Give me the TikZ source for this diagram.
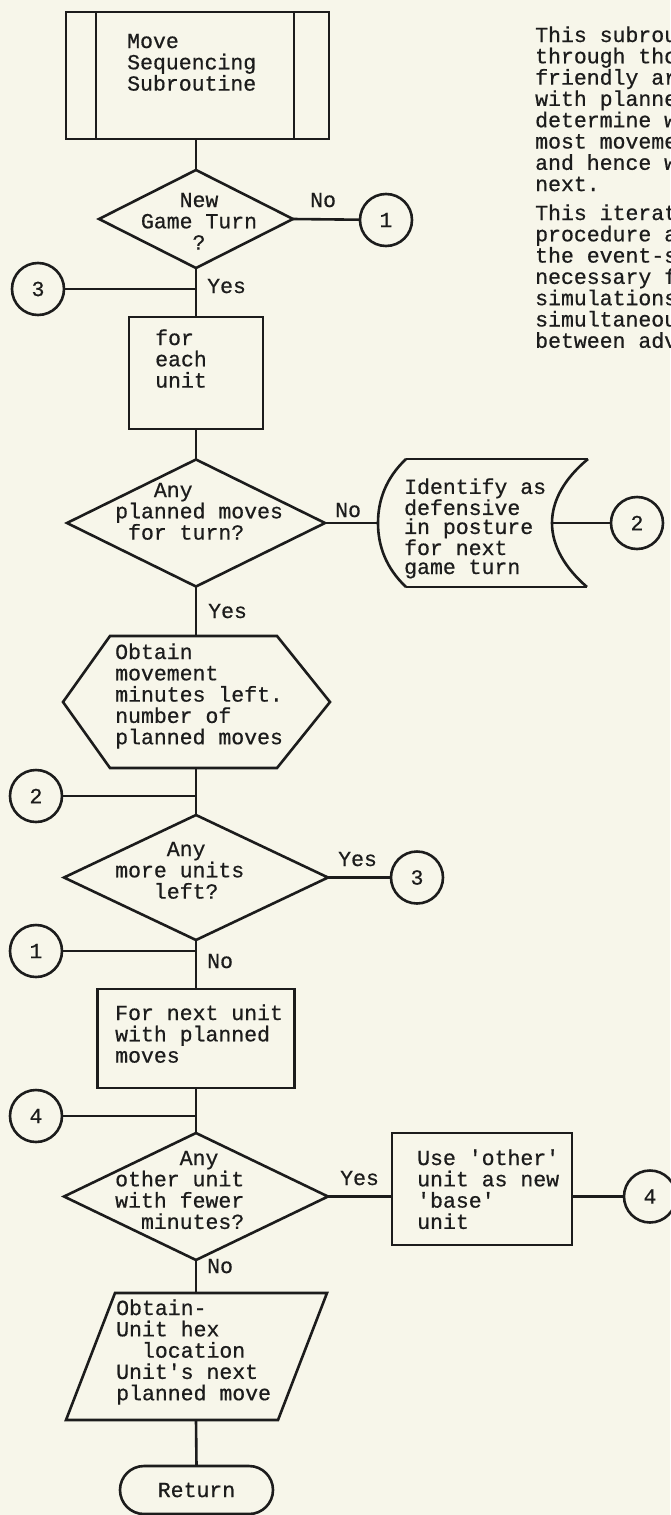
\documentclass[tikz,border=0pt]{standalone}
\usepackage{fontspec}
\setmainfont{Liberation Mono}[FakeBold=0.6]
\usetikzlibrary{shapes.geometric}
\definecolor{paper}{HTML}{F7F6EA}
\definecolor{ink}{HTML}{1C1C1C}
\newcommand\flowfont{\fontsize{21.5}{21.3}\selectfont}
\newcommand\sq{\textquotesingle}
\begin{document}
\begin{tikzpicture}[x=1pt,y=-1pt,
  every node/.style={text=ink, font=\flowfont},
  ln/.style={draw=ink, line width=2.6pt, line join=miter},
  boxr/.style={rectangle, draw=ink, line width=2.6pt, inner sep=0pt, outer sep=0pt},
  dia/.style={diamond, draw=ink, line width=2.6pt, inner sep=0pt, outer sep=0pt},
  conn/.style={circle, draw=ink, line width=2.6pt, minimum size=52pt, inner sep=0pt, outer sep=0pt},
  term/.style={rectangle, rounded corners=24pt, draw=ink, line width=2.6pt, inner sep=0pt, outer sep=0pt},
  txt/.style={anchor=base west, align=left, inner sep=0pt},
  lbl/.style={anchor=base west, inner sep=0pt}]
\fill[paper] (0,0) rectangle (670,1515);
\useasboundingbox (0,0) rectangle (670,1515);

% --- shapes (multi-line text nodes are anchored at the baseline of their last line) ---
\node[boxr, minimum width=263pt, minimum height=127pt] (sub) at (197.5,75.5) {};
\draw[ln] ([xshift=30pt]sub.north west) -- ([xshift=30pt]sub.south west);
\draw[ln] ([xshift=-35pt]sub.north east) -- ([xshift=-35pt]sub.south east);
\node[txt] (tsub) at (127,90.6) {Move\\Sequencing\\Subroutine};

\node[dia, minimum width=194pt, minimum height=98pt] (d1) at (196,219) {};
\node[anchor=base, align=center, inner sep=0pt] (td1) at (199,249.6) {New\\Game Turn\\?};
\node[conn] (c1a) at (386,220) {1};
\node[lbl] (lno1) at (310,207) {No};

\node[conn] (c3a) at (38,289) {3};
\coordinate (j3) at (196,289);
\node[lbl] (lyes1) at (207,293) {Yes};

\node[boxr, minimum width=134pt, minimum height=112pt] (box2) at (196,373) {};
\node[txt] (tbox2) at (155,387.6) {for\\each\\unit};

\node[dia, minimum width=258pt, minimum height=127pt] (d2) at (196,523) {};
\node[txt] (td2) at (115,539.6) {\phantom{xxx}Any\\planned moves\\\phantom{x}for turn?};
\node[lbl] (lno2) at (335,517) {No};

% stored data shape
\coordinate (idW) at (378,523);
\coordinate (idE) at (552,523);
\draw[ln] (406,459) -- (588,459);
\draw[ln] (406,587) -- (587,587);
\draw[ln] (406,459) .. controls (386,478) and (378,500) .. (idW) .. controls (378,546) and (386,568) .. (406,587);
\draw[ln] (588,459) .. controls (565,478) and (552,500) .. (idE) .. controls (552,546) and (565,568) .. (587,587);
\node[txt, font=\fontsize{21.5}{19}\selectfont] (tid) at (404,574) {Identify as\\defensive\\in posture\\for next\\game turn};
\node[conn] (c2a) at (637,523) {2};

\node[lbl] (lyes2) at (208,618) {Yes};

% hexagon
\coordinate (hexN) at (196,636);
\coordinate (hexS) at (196,768);
\draw[ln] (110,636) -- (277,636) -- (330,702) -- (277,768) -- (110,768) -- (63,702) -- cycle;
\node[txt] (thex) at (115,744.2) {Obtain\\movement\\minutes left.\\number of\\planned moves};

\node[conn] (c2b) at (36,796) {2};
\coordinate (j2) at (196,796);

\node[dia, minimum width=264pt, minimum height=125pt] (d3) at (196,877.5) {};
\node[txt] (td3) at (115,898.6) {\phantom{xxxx}Any\\more units\\\phantom{xxx}left?};
\node[lbl] (lyes3) at (338,866) {Yes};
\node[conn] (c3b) at (417,877.5) {3};

\node[conn] (c1b) at (36,951) {1};
\coordinate (j1) at (196,951);
\node[lbl] (lno3) at (207,968) {No};

\node[boxr, minimum width=197pt, minimum height=99pt] (box3) at (196,1038.5) {};
\node[txt] (tbox3) at (115,1062.6) {For next unit\\with planned\\moves};

\node[conn] (c4a) at (36,1116) {4};
\coordinate (j4) at (196,1116);

\node[dia, minimum width=264pt, minimum height=127pt] (d4) at (196,1196.5) {};
\node[txt] (td4) at (115,1228.9) {\phantom{xxxxx}Any\\other unit\\with fewer\\\phantom{xx}minutes?};
\node[lbl] (lyes4) at (340,1185) {Yes};

\node[boxr, minimum width=180pt, minimum height=112pt] (box4) at (482,1189) {};
\node[txt] (tbox4) at (417,1228.9) {Use \sq other\sq\\unit as new\\\sq base\sq\\unit};
\node[conn] (c4b) at (650,1196.5) {4};

\node[lbl] (lno4) at (207,1273) {No};

% parallelogram
\coordinate (parN) at (196,1293);
\coordinate (parS) at (196,1420);
\draw[ln] (115,1293) -- (327,1293) -- (278,1420) -- (66,1420) -- cycle;
\node[txt] (tpar) at (116,1400.2) {Obtain-\\Unit hex\\\phantom{xx}location\\Unit\sq s next\\planned move};

\node[term, minimum width=153pt, minimum height=48pt] (ret) at (196.5,1490) {Return};

% description text
\node[txt] (desc1) at (535,191.1) {This subrou\\through tho\\friendly ar\\with planne\\determine w\\most moveme\\and hence w\\next.};
\node[txt] (desc2) at (535,347.8) {This iterat\\procedure a\\the event-s\\necessary f\\simulations\\simultaneou\\between adv};

% --- connectors ---
\draw[ln] (sub.south -| d1.north) -- (d1.north);
\draw[ln] (d1.east) -- (c1a);
\draw[ln] (d1.south) -- (box2.north);
\draw[ln] (c3a) -- (j3);
\draw[ln] (box2.south) -- (d2.north);
\draw[ln] (d2.east) -- (idW);
\draw[ln] (idE) -- (c2a);
\draw[ln] (d2.south) -- (hexN);
\draw[ln] (hexS) -- (d3.north);
\draw[ln] (c2b) -- (j2);
\draw[ln] (d3.east) -- (c3b);
\draw[ln] (d3.south) -- (box3.north);
\draw[ln] (c1b) -- (j1);
\draw[ln] (box3.south) -- (d4.north);
\draw[ln] (c4a) -- (j4);
\draw[ln] (d4.east) -- (d4.east -| box4.west);
\draw[ln] (box4.east |- c4b) -- (c4b);
\draw[ln] (d4.south) -- (parN);
\draw[ln] (parS) -- (ret.north);
\end{tikzpicture}
\end{document}
